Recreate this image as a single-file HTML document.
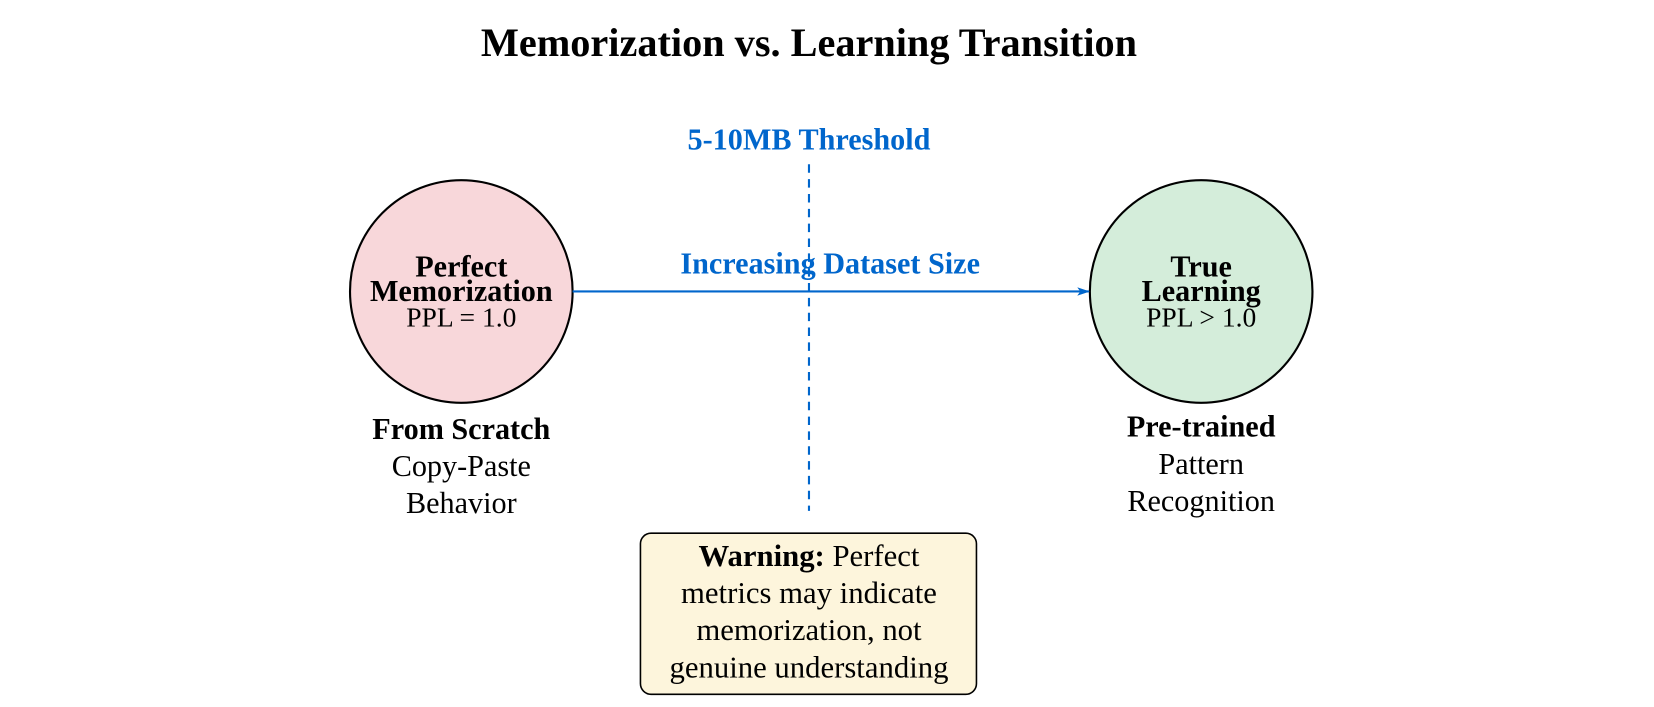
<!DOCTYPE html>
<html><head><meta charset="utf-8"><style>
html,body{margin:0;padding:0;background:#fff;}
svg{display:block;}
text{font-family:"Liberation Serif",serif;}
</style></head><body>
<svg width="1654" height="707" viewBox="0 0 1560 667" xmlns="http://www.w3.org/2000/svg">
<defs><marker id="ah" markerWidth="12" markerHeight="8" refX="11" refY="4" orient="auto" markerUnits="userSpaceOnUse"><path d="M0,0 L12,4 L0,8 L3,4 Z" fill="#0066cc"/></marker></defs>
<text x="763" y="53" text-anchor="middle" font-size="38" font-weight="bold">Memorization vs. Learning Transition</text>
<text x="763" y="141" text-anchor="middle" font-size="28.5" font-weight="bold" fill="#0066cc">5-10MB Threshold</text>
<line x1="763" y1="155" x2="763" y2="482" stroke="#0066cc" stroke-width="2" stroke-dasharray="8,6"/>
<circle cx="435" cy="275" r="105" fill="#f8d7da" stroke="#000" stroke-width="2"/>
<circle cx="1133" cy="275" r="105" fill="#d4edda" stroke="#000" stroke-width="2"/>
<line x1="540" y1="275" x2="1027" y2="275" stroke="#0066cc" stroke-width="2" marker-end="url(#ah)"/>
<text x="783" y="258" text-anchor="middle" font-size="28.5" font-weight="bold" fill="#0066cc">Increasing Dataset Size</text>
<g text-anchor="middle">
<text x="435" y="261" font-size="28.5" font-weight="bold">Perfect</text>
<text x="435" y="284" font-size="28.5" font-weight="bold">Memorization</text>
<text x="435" y="308" font-size="26">PPL = 1.0</text>
<text x="1133" y="261" font-size="28.5" font-weight="bold">True</text>
<text x="1133" y="284" font-size="28.5" font-weight="bold">Learning</text>
<text x="1133" y="308" font-size="26">PPL &gt; 1.0</text>
<text x="435" y="414" font-size="28.5" font-weight="bold">From Scratch</text>
<text x="435" y="449" font-size="28.5">Copy-Paste</text>
<text x="435" y="484" font-size="28.5">Behavior</text>
<text x="1133" y="412" font-size="28.5" font-weight="bold">Pre-trained</text>
<text x="1133" y="447" font-size="28.5">Pattern</text>
<text x="1133" y="482" font-size="28.5">Recognition</text>
</g>
<rect x="604" y="503" width="317" height="152" rx="10" fill="#fdf5dc" stroke="#000" stroke-width="1.5"/>
<g text-anchor="middle" font-size="29">
<text x="763" y="534"><tspan font-weight="bold">Warning:</tspan> Perfect</text>
<text x="763" y="569">metrics may indicate</text>
<text x="763" y="604">memorization, not</text>
<text x="763" y="639">genuine understanding</text>
</g>
</svg>
</body></html>
